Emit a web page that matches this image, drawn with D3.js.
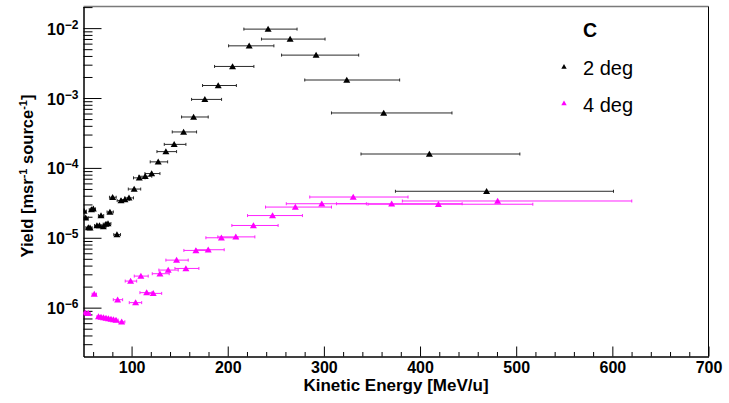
<!DOCTYPE html>
<html>
<head>
<meta charset="utf-8">
<script src="https://cdn.jsdelivr.net/npm/d3@7"></script>
<style>
  body { margin: 0; background: #fff; }
  svg { display: block; font-family: "Liberation Sans", Arial, Helvetica, sans-serif; }
</style>
</head>
<body>
<svg id="chart" width="729" height="403"></svg>
<script>
var width = 729,
    height = 403,
    margin = {top: 6.5, right: 20.5, bottom: 46.5, left: 83.5}

// 2 deg (black)
var energy2 = [50.5, 52.3, 55.0, 56.8, 58.3, 60.2, 64.0, 66.6, 68.2, 70.6, 73.4, 75.5, 77.5, 80.3, 84.8,
               89.0, 93.1, 97.3, 102.7, 108.0, 114.2, 120.9, 127.7, 135.7, 144.3, 154.1, 164.5, 176.2,
               190.1, 205.0, 222.3, 242.0, 264.9, 291.9, 323.8, 362.2, 409.7, 469.2]
var yield2 = [2.41e-5, 1.93e-5, 1.40e-5, 1.39e-5, 2.53e-5, 2.59e-5, 1.50e-5, 1.50e-5, 2.08e-5, 1.45e-5,
              1.57e-5, 1.60e-5, 2.34e-5, 3.80e-5, 1.11e-5, 3.41e-5, 3.52e-5, 3.72e-5, 4.98e-5, 7.20e-5,
              7.59e-5, 8.30e-5, 1.22e-4, 1.71e-4, 2.17e-4, 3.27e-4, 5.35e-4, 9.55e-4, 1.51e-3, 2.83e-3,
              5.58e-3, 9.68e-3, 6.97e-3, 4.11e-3, 1.81e-3, 6.11e-4, 1.58e-4, 4.63e-5]
var low2 = [48, 50, 52.5, 54.5, 56, 58, 61.5, 64, 65.5, 68, 70.5, 72.5, 74.5, 77, 81.5,
            85, 89, 93, 96.6, 102, 107.5, 113.9, 119.4, 126.4, 134, 142.3, 152, 162.4,
            173.8, 186.3, 200.9, 216.8, 235.1, 256, 280.1, 307.9, 338.6, 374.4]
var high2 = [53, 55, 57.5, 59, 61, 62.5, 66.5, 69, 71, 73.5, 76.5, 78.5, 81, 84, 88.5,
             93, 97.5, 102, 109.5, 114, 121, 129.5, 137.5, 146.8, 156.5, 167.6, 179.7, 193.6,
             209, 227.2, 248, 272.1, 301.2, 336.2, 378.8, 433.2, 503.8, 601.2]

// 4 deg (magenta)
var energy4 = [51.9, 55.0, 61.2, 65.6, 68.2, 70.8, 73.4, 76.0, 78.6, 81.2, 83.8, 89.7, 85.5,
               99.0, 104.2, 109.7, 115.7, 122.5, 129.5, 138.1, 146.8, 156.5, 166.9, 179.7,
               193.4, 208.4, 226.7, 246.6, 270.3, 297.8, 330.5, 370.5, 419.1, 480.7]
var yield4 = [8.43e-7, 8.29e-7, 1.56e-6, 7.44e-7, 7.31e-7, 7.19e-7, 7.08e-7, 6.97e-7, 6.85e-7, 6.74e-7,
              6.65e-7, 6.27e-7, 1.30e-6, 2.40e-6, 1.18e-6, 2.83e-6, 1.64e-6, 1.60e-6, 3.06e-6, 3.45e-6,
              4.79e-6, 3.64e-6, 6.59e-6, 6.74e-6, 1.00e-5, 1.03e-5, 1.50e-5, 2.08e-5, 2.75e-5, 3.07e-5,
              3.83e-5, 3.07e-5, 3.02e-5, 3.36e-5]
var low4 = [50, 53, 59, 64, 66.5, 69, 71.5, 74, 76.5, 79, 81.5, 86.5, 81.0,
            93.4, 97.6, 102.8, 108.7, 114.9, 121.5, 128.4, 135.7, 145.1, 154.4, 166.9,
            177.3, 189.7, 204.3, 220.6, 239.3, 260.9, 285.3, 313.1, 345.9, 381.6]
var high4 = [54, 57, 63.5, 67, 70, 72.5, 75, 78, 80.5, 83.5, 86, 93, 90.7,
             105.3, 110.5, 117.3, 121.2, 131.3, 139.1, 148.5, 158.9, 170, 181.4, 196.3,
             210.5, 228.2, 252.4, 277.7, 307.9, 344.2, 387.5, 443.8, 517.3, 620.2]

var xMajor = [100, 200, 300, 400, 500, 600, 700]
var yMajor = [1e-6, 1e-5, 1e-4, 1e-3, 1e-2]
var yLabels = ["\u22126", "\u22125", "\u22124", "\u22123", "\u22122"]
var legendNames = ["2 deg", "4 deg"]
var colors = ["#000000", "#ff00ff"]

var svg = d3.select("#chart")

var x = d3.scaleLinear().domain([50, 700]).range([margin.left, width - margin.right])
var y = d3.scaleLog().domain([2.0e-7, 2.04e-2]).range([height - margin.bottom, margin.top])

var xMinor = d3.range(60, 701, 20).filter(function(v){ return v % 100 != 0 })
var yMinor = []
for (var e = -7; e <= -2; e++)
    for (var k = 2; k <= 9; k++) {
        var v = k * Math.pow(10, e)
        if (v > y.domain()[0] && v < y.domain()[1]) yMinor.push(v)
    }

svg.append("clipPath").attr("id", "plotArea")
   .append("rect")
   .attr("x", margin.left).attr("y", margin.top)
   .attr("width", width - margin.left - margin.right)
   .attr("height", height - margin.top - margin.bottom)

// frame: top grey, right black
svg.append("line")
   .attr("x1", margin.left).attr("x2", width - margin.right)
   .attr("y1", margin.top).attr("y2", margin.top)
   .attr("stroke", "#7a7a7a").attr("stroke-width", 1.5)
svg.append("line")
   .attr("x1", width - margin.right).attr("x2", width - margin.right)
   .attr("y1", margin.top).attr("y2", height - margin.bottom)
   .attr("stroke", "#000")

// x axis, ticks pointing inwards
var gx = svg.append("g").attr("transform", "translate(0," + (height - margin.bottom) + ")")
gx.call(d3.axisBottom(x).tickValues(xMinor).tickSizeInner(-4.5).tickSizeOuter(0).tickFormat(""))
gx.append("g").call(d3.axisBottom(x).tickValues(xMajor).tickSizeInner(-10).tickSizeOuter(0).tickPadding(5.5))
gx.selectAll("path.domain").attr("stroke", "#000")
gx.selectAll("text")
  .attr("font-size", 16).attr("font-weight", "bold").attr("fill", "#000")
  .attr("font-family", "'Liberation Sans', Arial, sans-serif")

// y axis, ticks pointing inwards
var gy = svg.append("g").attr("transform", "translate(" + margin.left + ",0)")
gy.call(d3.axisLeft(y).tickValues(yMinor).tickSizeInner(-9).tickSizeOuter(0).tickFormat(""))
gy.append("g").call(d3.axisLeft(y).tickValues(yMajor).tickSizeInner(-18).tickSizeOuter(0).tickFormat(""))

var lab = svg.append("g")
  .attr("font-weight", "bold").attr("text-anchor", "end")
lab.selectAll("text").data(yMajor).enter().append("text")
  .attr("x", margin.left - 5)
  .attr("y", function(d){ return y(d) + 6.5 })
  .attr("font-size", 16)
  .each(function(d, i) {
      var t = d3.select(this)
      t.append("tspan").text("10")
      t.append("tspan").attr("dy", -6).attr("font-size", 12).text(yLabels[i])
  })

// axis titles
svg.append("text")
   .attr("x", 396).attr("y", 391)
   .attr("text-anchor", "middle").attr("font-size", 17).attr("font-weight", "bold")
   .text("Kinetic Energy [MeV/u]")

var yt = svg.append("text")
   .attr("transform", "translate(33,176) rotate(-90)")
   .attr("text-anchor", "middle").attr("font-size", 16.5).attr("font-weight", "bold")
yt.append("tspan").text("Yield [msr")
yt.append("tspan").attr("dy", -6).attr("font-size", 11).text("-1")
yt.append("tspan").attr("dy", 6).text(" source")
yt.append("tspan").attr("dy", -6).attr("font-size", 11).text("-1")
yt.append("tspan").attr("dy", 6).text("]")

// data
var triangle = "M0,-3.3L3.5,2.7L-3.5,2.7Z"
var series = [
    {e: energy2, v: yield2, lo: low2, hi: high2, color: colors[0], bar: "#2a2a2a"},
    {e: energy4, v: yield4, lo: low4, hi: high4, color: colors[1], bar: "#ff22ff"}
]

var plot = svg.append("g").attr("clip-path", "url(#plotArea)")
series.forEach(function(s) {
    var pts = s.e.map(function(d, i){ return {e: d, v: s.v[i], lo: s.lo[i], hi: s.hi[i]} })
    var g = plot.append("g")
    g.selectAll(".bar").data(pts).enter().append("line")
      .attr("x1", function(d){ return x(d.lo) }).attr("x2", function(d){ return x(d.hi) })
      .attr("y1", function(d){ return y(d.v) }).attr("y2", function(d){ return y(d.v) })
      .attr("stroke", s.bar).attr("stroke-width", 1)
    ;["lo", "hi"].forEach(function(key) {
        g.selectAll(".cap" + key).data(pts).enter().append("line")
          .attr("x1", function(d){ return x(d[key]) }).attr("x2", function(d){ return x(d[key]) })
          .attr("y1", function(d){ return y(d.v) - 1.5 }).attr("y2", function(d){ return y(d.v) + 1.5 })
          .attr("stroke", s.bar).attr("stroke-width", 1)
    })
    g.selectAll("path").data(pts).enter().append("path")
      .attr("d", triangle)
      .attr("transform", function(d){ return "translate(" + x(d.e) + "," + y(d.v) + ")" })
      .attr("fill", s.color)
})

// legend
svg.append("text").attr("x", 583).attr("y", 37.3)
   .attr("font-size", 19.5).attr("font-weight", "bold").text("C")
var leg = svg.append("g")
leg.selectAll("path").data(legendNames).enter().append("path")
   .attr("d", "M0,-2.6L2.7,2.1L-2.7,2.1Z")
   .attr("transform", function(d, i){ return "translate(564," + (66.7 + i * 36.5) + ")" })
   .attr("fill", function(d, i){ return colors[i] })
leg.selectAll("text").data(legendNames).enter().append("text")
   .attr("x", 583).attr("y", function(d, i){ return 75 + i * 36.7 })
   .attr("font-size", 20).text(function(d){ return d })
</script>
</body>
</html>
